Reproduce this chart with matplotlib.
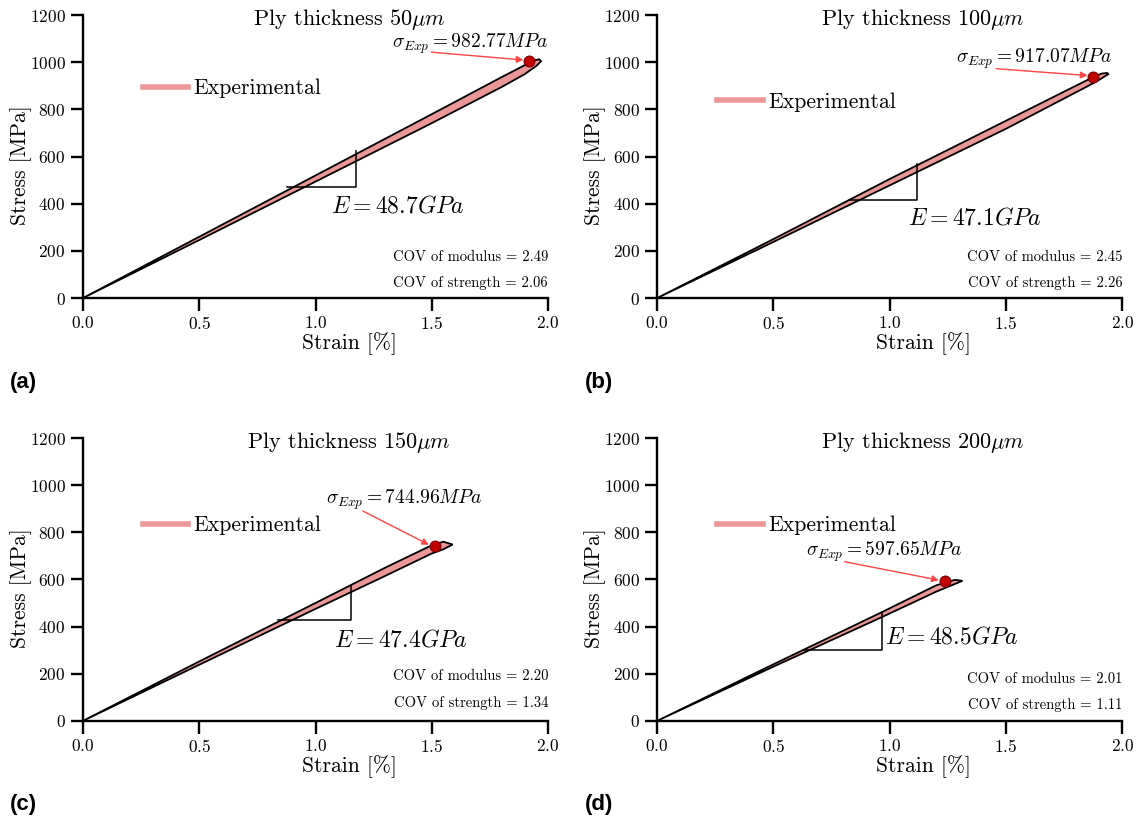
import numpy as np
import matplotlib
matplotlib.use("Agg")
import matplotlib.pyplot as plt
from matplotlib.lines import Line2D

plt.rcParams['font.family'] = ['cmr10', 'DejaVu Serif']
plt.rcParams['mathtext.fontset'] = 'cm'
plt.rcParams['axes.formatter.use_mathtext'] = True

# ---- data ----
thickness = ['50', '100', '150', '200']
panel_tags = ['(a)', '(b)', '(c)', '(d)']

# envelope of experimental curves: upper and lower bound (strain %, stress MPa)
upper_strain = [[0, 0.5, 1.0, 1.5, 1.8, 1.9, 1.94, 1.962, 1.97],
                [0, 0.5, 1.0, 1.5, 1.85, 1.91, 1.935, 1.94],
                [0, 0.5, 1.0, 1.3, 1.5, 1.55, 1.59],
                [0, 0.5, 0.966, 1.2, 1.28, 1.313]]
upper_stress = [[0, 260, 520, 780, 937, 988, 1008, 1013, 1005],
                [0, 250, 505, 752, 925, 952, 955, 950],
                [0, 252, 500, 650, 745, 760, 748],
                [0, 240, 461, 575, 598, 594]]
lower_strain = [[0, 0.5, 1.0, 1.5, 1.8, 1.9, 1.95, 1.97],
                [0, 0.5, 1.0, 1.5, 1.85, 1.9, 1.94],
                [0, 0.5, 1.0, 1.3, 1.5, 1.55, 1.59],
                [0, 0.5, 0.966, 1.2, 1.313]]
lower_stress = [[0, 246, 494, 742, 895, 950, 985, 1005],
                [0, 238, 478, 718, 898, 925, 950],
                [0, 238, 475, 615, 710, 728, 748],
                [0, 230, 440, 548, 594]]

sigma_exp = ['982.77', '917.07', '744.96', '597.65']
sigma_point_x = [1.919, 1.876, 1.513, 1.236]
sigma_point_y = [1005, 939, 742, 592]
sigma_text_x = [1.33, 1.284, 1.045, 0.639]
sigma_text_y = [1078, 1015, 937, 717]
arrow_start_x = [1.498, 1.457, 1.204, 0.806]
arrow_start_y = [1043, 973, 890, 675]

modulus = ['48.7', '47.1', '47.4', '48.5']
tri_x0 = [0.877, 0.825, 0.838, 0.633]
tri_x1 = [1.175, 1.116, 1.154, 0.966]
tri_y0 = [469, 415, 428, 299]
tri_y1 = [624, 568, 573, 461]
e_text_x = [1.067, 1.078, 1.08, 0.98]
e_text_y = [388, 339, 341, 355]

cov_modulus = ['2.49', '2.45', '2.20', '2.01']
cov_strength = ['2.06', '2.26', '1.34', '1.11']
cov_y = [(0.143, 0.052), (0.143, 0.052), (0.157, 0.064), (0.149, 0.057)]
legend_y = [0.74, 0.693, 0.69, 0.69]

pink = '#ec9797'

fig = plt.figure(figsize=(11.37, 8.21), dpi=100)
lefts = [0.073, 0.578, 0.073, 0.578]
bottoms = [0.637, 0.637, 0.122, 0.122]
tag_pos = [(0.009, 0.528), (0.514, 0.528), (0.009, 0.013), (0.514, 0.013)]

for i in range(4):
    ax = fig.add_axes([lefts[i], bottoms[i], 0.409, 0.3445])
    xs = np.concatenate([upper_strain[i], lower_strain[i][::-1]])
    ys = np.concatenate([upper_stress[i], lower_stress[i][::-1]])
    ax.fill(xs, ys, facecolor=pink, edgecolor='black', lw=1.3, zorder=2)

    # slope triangle
    ax.plot([tri_x0[i], tri_x1[i], tri_x1[i]], [tri_y0[i], tri_y0[i], tri_y1[i]],
            color='black', lw=1.1, zorder=3)
    ax.text(e_text_x[i], e_text_y[i], r'$E = %sGPa$' % modulus[i],
            fontsize=17, va='center', ha='left')

    # strength point and annotation
    ax.plot(sigma_point_x[i], sigma_point_y[i], 'o', color='#c00000',
            mec='#600000', mew=0.6, ms=8, zorder=4)
    ax.annotate('', xy=(sigma_point_x[i] - 0.025, sigma_point_y[i] + 5),
                xytext=(arrow_start_x[i], arrow_start_y[i]),
                arrowprops=dict(arrowstyle='-|>', color='#ff4545', lw=1.0,
                                mutation_scale=10, shrinkA=0, shrinkB=0))
    ax.text(sigma_text_x[i], sigma_text_y[i],
            r'$\sigma_{Exp} = %sMPa$' % sigma_exp[i],
            fontsize=14, va='center', ha='left')

    ax.text(0.572, 0.985, r'Ply thickness %s$\mu m$' % thickness[i],
            transform=ax.transAxes, fontsize=16, ha='center', va='center')

    ax.text(1.0, cov_y[i][0], 'COV of modulus = %s' % cov_modulus[i],
            transform=ax.transAxes, fontsize=10.5, ha='right', va='center')
    ax.text(1.0, cov_y[i][1], 'COV of strength = %s' % cov_strength[i],
            transform=ax.transAxes, fontsize=10.5, ha='right', va='center')

    ax.legend(handles=[Line2D([], [], color=pink, lw=4)], labels=['Experimental'],
              loc='center left', bbox_to_anchor=(0.128, legend_y[i]),
              frameon=False, fontsize=15.7, handlelength=2.1, handletextpad=0.25,
              borderpad=0, borderaxespad=0)

    ax.set_xlim(0, 2.0)
    ax.set_ylim(0, 1200)
    ax.set_xticks([0, 0.5, 1.0, 1.5, 2.0])
    ax.set_yticks(range(0, 1201, 200))
    ax.spines['top'].set_visible(False)
    ax.spines['right'].set_visible(False)
    ax.spines['left'].set_linewidth(1.7)
    ax.spines['bottom'].set_linewidth(1.7)
    ax.tick_params(direction='out', length=9, width=1.7, labelsize=12.5)
    ax.set_xlabel('Strain [%]', fontsize=15.5)
    ax.set_ylabel('Stress [MPa]', fontsize=15.5)
    ax.xaxis.set_label_coords(0.572, -0.12)
    ax.yaxis.set_label_coords(-0.11, 0.47)

    fig.text(tag_pos[i][0], tag_pos[i][1], panel_tags[i], fontsize=16,
             fontweight='bold', family='Liberation Sans')

fig.savefig('out.png', dpi=100)
